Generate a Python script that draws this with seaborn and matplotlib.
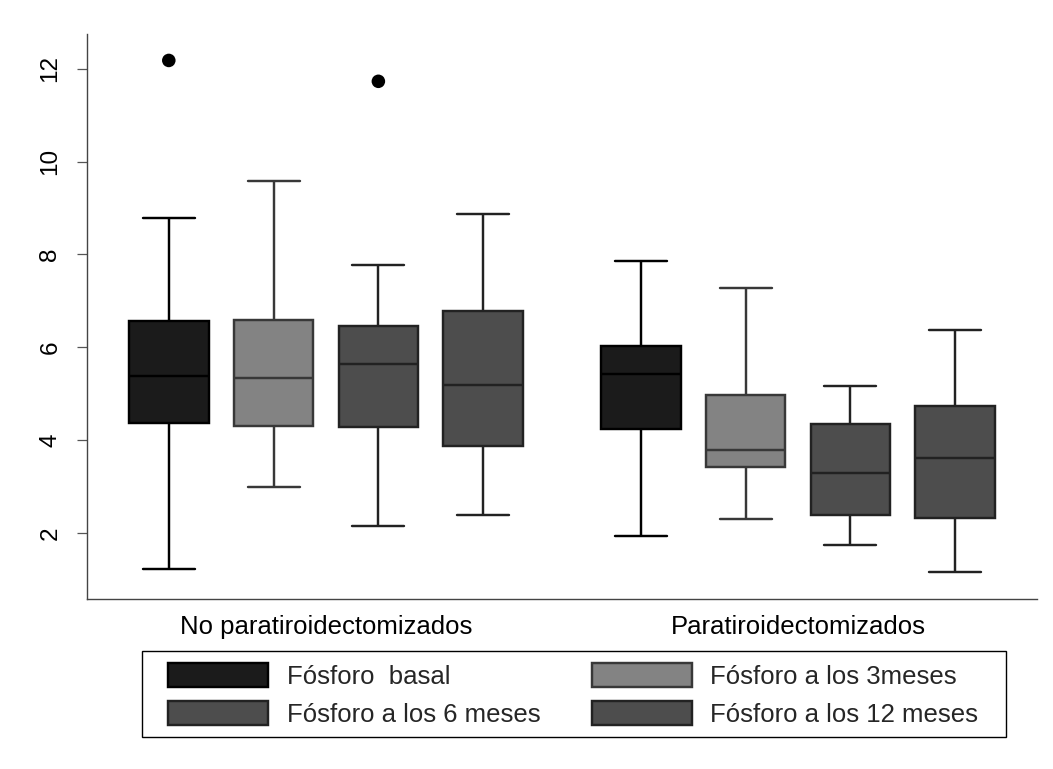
"""Boxplots of serum phosphorus by parathyroidectomy status and follow-up time."""

import matplotlib

matplotlib.use("Agg")

import matplotlib.pyplot as plt
import numpy as np
import pandas as pd
import seaborn as sns
from matplotlib.patches import Patch, Rectangle

# five-number summaries: [min, q1, median, q3, max]
groups = ["No paratiroidectomizados", "Paratiroidectomizados"]
times = [
    "Fósforo  basal",
    "Fósforo a los 3meses",
    "Fósforo a los 6 meses",
    "Fósforo a los 12 meses",
]

basal_no = [1.22, 4.37, 5.38, 6.57, 8.78]
mes3_no = [2.98, 4.31, 5.33, 6.58, 9.59]
mes6_no = [2.15, 4.28, 5.64, 6.45, 7.78]
mes12_no = [2.39, 3.87, 5.19, 6.78, 8.88]

basal_pt = [1.93, 4.24, 5.42, 6.03, 7.86]
mes3_pt = [2.29, 3.42, 3.78, 4.98, 7.28]
mes6_pt = [1.73, 2.38, 3.29, 4.34, 5.16]
mes12_pt = [1.15, 2.31, 3.62, 4.73, 6.38]

outlier_groups = ["No paratiroidectomizados", "No paratiroidectomizados"]
outlier_times = ["Fósforo  basal", "Fósforo a los 6 meses"]
outlier_values = [12.18, 11.73]

fills = ["#1b1b1b", "#838383", "#4d4d4d", "#4d4d4d"]
edges = ["#000000", "#383838", "#222222", "#222222"]

BOX_SPAN = 0.888  # total dodge width per group


def build_frame() -> pd.DataFrame:
    series = {
        (groups[0], times[0]): basal_no,
        (groups[0], times[1]): mes3_no,
        (groups[0], times[2]): mes6_no,
        (groups[0], times[3]): mes12_no,
        (groups[1], times[0]): basal_pt,
        (groups[1], times[1]): mes3_pt,
        (groups[1], times[2]): mes6_pt,
        (groups[1], times[3]): mes12_pt,
    }
    rows = []
    for (grp, tm), vals in series.items():
        for v in vals:
            rows.append({"grupo": grp, "tiempo": tm, "fosforo": v})
    return pd.DataFrame(rows)


def main() -> None:
    sns.set_style("white")
    plt.rcParams["font.family"] = ["Liberation Sans", "DejaVu Sans"]

    df = build_frame()
    palette = dict(zip(times, fills))

    fig = plt.figure(figsize=(10.53, 7.69), dpi=100)
    ax = fig.add_axes([0.0823, 0.2215, 0.9028, 0.7343])

    for tm, edge in zip(times, edges):
        sns.boxplot(
            data=df[df["tiempo"] == tm],
            x="grupo",
            y="fosforo",
            hue="tiempo",
            order=groups,
            hue_order=times,
            palette=palette,
            dodge=True,
            width=BOX_SPAN,
            gap=0.242,
            whis=(0, 100),
            linecolor=edge,
            linewidth=1.75,
            capwidths=0.11,
            saturation=1,
            legend=False,
            ax=ax,
        )

    # outliers, placed at the same dodge offsets as the boxes
    step = BOX_SPAN / len(times)
    ox = [
        groups.index(g) + (times.index(t) + 0.5) * step - BOX_SPAN / 2
        for g, t in zip(outlier_groups, outlier_times)
    ]
    sns.scatterplot(x=ox, y=outlier_values, color="black", s=95,
                    edgecolor="none", legend=False, ax=ax)

    ax.set_xlim(-0.507, 1.507)
    ax.set_ylim(0.58, 12.75)
    ax.set_yticks([2, 4, 6, 8, 10, 12])
    ax.set_xticks([0, 1])
    ax.set_xticklabels(groups)
    ax.set_xlabel("")
    ax.set_ylabel("")

    for side in ("top", "right"):
        ax.spines[side].set_visible(False)
    for side in ("left", "bottom"):
        ax.spines[side].set_color("#444444")
        ax.spines[side].set_linewidth(1.0)

    ax.tick_params(axis="x", bottom=False, length=0, pad=12, labelsize=18.5,
                   labelcolor="black")
    ax.tick_params(axis="y", left=True, length=7.2, width=0.9, color="#555555",
                   pad=11, labelsize=17.5, labelcolor="black")
    plt.setp(ax.get_yticklabels(), rotation=90, va="center")

    handles = [
        Patch(facecolor=fills[i], edgecolor=edges[i], linewidth=1.75)
        for i in (0, 2, 1, 3)
    ]
    labels = [times[i] for i in (0, 2, 1, 3)]
    fig.legend(
        handles,
        labels,
        ncol=2,
        loc="upper left",
        bbox_to_anchor=(168.3 / 1053, 1 - 663 / 769),
        frameon=False,
        borderpad=0,
        borderaxespad=0,
        handlelength=3.89,
        handleheight=1.04,
        handletextpad=0.72,
        columnspacing=2.0,
        labelspacing=0.5,
        fontsize=18.5,
    )
    fig.add_artist(
        Rectangle(
            (142.3 / 1053, (769 - 736.7) / 769),
            (1005.7 - 142.3) / 1053,
            (736.7 - 650.5) / 769,
            transform=fig.transFigure,
            fill=False,
            edgecolor="black",
            linewidth=1.0,
        )
    )

    fig.savefig("out.png", dpi=100)
    plt.close(fig)


if __name__ == "__main__":
    main()
